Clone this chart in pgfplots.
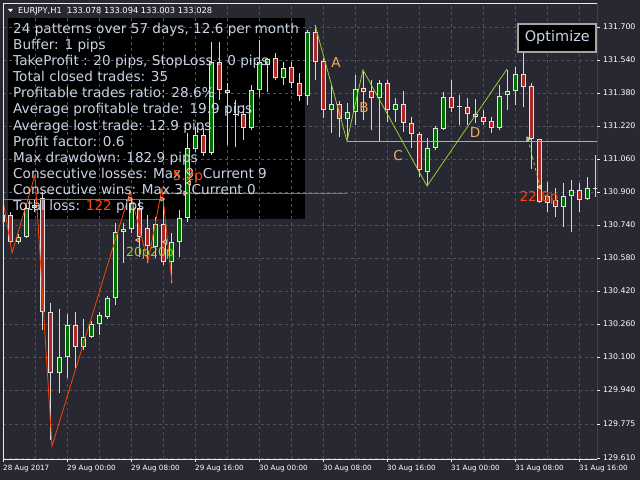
\documentclass[border=0pt]{standalone}
\usepackage{fontspec}
\setmainfont{DejaVu Sans}
\usepackage{pgfplots}
\pgfplotsset{compat=1.18}
\usepackage{pgfplotstable}
\definecolor{bg}{RGB}{40,40,50}
\definecolor{gridc}{RGB}{82,82,94}
\definecolor{framec}{RGB}{235,235,235}
\definecolor{wickc}{RGB}{215,215,215}
\definecolor{outc}{RGB}{225,225,225}
\definecolor{cgreen}{RGB}{0,112,0}
\definecolor{cred}{RGB}{175,40,40}
\definecolor{ored}{RGB}{255,69,0}
\definecolor{ygreen}{RGB}{154,205,50}
\definecolor{sandy}{RGB}{240,170,100}
\definecolor{boxtext}{RGB}{200,212,230}
\definecolor{btngray}{RGB}{165,165,165}

\pgfplotstableread{
i O H L C
0 130.755 130.837 130.735 130.788
2 130.658 130.696 130.648 130.682
3 130.682 130.847 130.677 130.822
7 130.022 130.333 129.925 130.100
8 130.100 130.308 129.998 130.255
10 130.149 130.284 130.134 130.197
11 130.197 130.275 130.192 130.260
12 130.260 130.318 130.207 130.304
13 130.294 130.396 130.284 130.386
14 130.386 130.750 130.352 130.706
15 130.706 130.750 130.556 130.721
16 130.721 130.876 130.701 130.847
19 130.633 130.779 130.580 130.745
21 130.561 130.701 130.459 130.658
22 130.658 130.813 130.585 130.774
23 130.774 131.186 130.755 131.113
24 131.108 131.215 131.094 131.176
26 131.089 131.627 131.079 131.530
31 131.210 131.419 131.201 131.395
32 131.395 131.637 131.361 131.530
33 131.516 131.550 131.385 131.545
35 131.453 131.530 131.419 131.501
38 131.365 131.685 131.322 131.676
41 131.298 131.419 131.186 131.327
43 131.254 131.332 131.162 131.288
44 131.288 131.467 131.225 131.399
47 131.356 131.443 131.147 131.428
49 131.298 131.356 131.239 131.327
53 130.997 131.162 130.934 131.113
54 131.113 131.220 131.104 131.210
55 131.205 131.385 131.201 131.361
62 131.210 131.419 131.201 131.365
63 131.370 131.492 131.298 131.390
64 131.390 131.506 131.322 131.472
70 130.827 130.944 130.730 130.881
71 130.881 130.958 130.706 130.910
73 130.866 130.973 130.861 130.919
}\greentab

\pgfplotstableread{
i O H L C
1 130.788 130.803 130.643 130.658
4 130.837 130.861 130.803 130.822
5 130.871 130.900 130.231 130.318
6 130.318 130.362 129.698 130.022
9 130.255 130.318 130.047 130.149
17 130.822 130.861 130.585 130.682
18 130.725 130.788 130.556 130.638
20 130.745 130.861 130.546 130.561
25 131.176 131.210 131.075 131.089
27 131.530 131.627 131.346 131.395
28 131.395 131.428 131.128 131.380
29 131.278 131.346 131.118 131.273
30 131.278 131.322 131.152 131.210
34 131.550 131.574 131.443 131.453
36 131.506 131.530 131.404 131.428
37 131.428 131.477 131.341 131.365
39 131.676 131.710 131.443 131.530
40 131.535 131.550 131.259 131.298
42 131.327 131.341 131.167 131.254
45 131.404 131.482 131.249 131.385
46 131.390 131.443 131.201 131.356
48 131.428 131.443 131.239 131.298
50 131.327 131.390 131.191 131.235
51 131.235 131.264 131.113 131.181
52 131.181 131.191 130.973 131.007
56 131.361 131.443 131.288 131.307
57 131.314 131.370 131.225 131.310
58 131.312 131.356 131.225 131.278
59 131.278 131.351 131.235 131.264
60 131.264 131.298 131.225 131.239
61 131.244 131.264 131.186 131.210
65 131.472 131.579 131.312 131.409
66 131.414 131.428 131.012 131.157
67 131.157 131.157 130.847 130.852
68 130.881 130.949 130.803 130.847
69 130.861 130.919 130.779 130.827
72 130.910 130.944 130.803 130.861
74 130.917 131.079 130.876 130.913
}\redtab

\pgfplotsset{
  wick/.style={draw=none, mark=none, forget plot,
    error bars/.cd, y dir=plus, y explicit, error mark=none,
    error bar style={draw=wickc, line width=1pt}},
  bodyout/.style={draw=none, mark=none, forget plot,
    error bars/.cd, y dir=plus, y explicit, error mark=none,
    error bar style={draw=outc, line width=5pt}},
  bodyin/.style={draw=none, mark=none, forget plot,
    error bars/.cd, y dir=plus, y explicit, error mark=none,
    error bar style={draw=#1, line width=3pt}},
}

\begin{document}
\begin{tikzpicture}
\fill[bg] (0,0) rectangle (640pt,480pt);
\useasboundingbox (0,0) rectangle (640pt,480pt);
\begin{scope}[shift={(0pt,480pt)},x=1pt,y=-1pt]
\fill[black] (8,18) rectangle (305,219);
\end{scope}
\begin{axis}[
  at={(3pt,21pt)}, anchor=south west, scale only axis,
  width=594pt, height=456pt,
  xmin=0, xmax=74.25, ymin=129.6054, ymax=131.8164,
  axis line style={draw=none},
  xtick={0,8,16,24,32,40,48,56,64,72},
  xticklabels={28 Aug 2017,29 Aug 00:00,29 Aug 08:00,29 Aug 16:00,30 Aug 00:00,30 Aug 08:00,30 Aug 16:00,31 Aug 00:00,31 Aug 08:00,31 Aug 16:00},
  minor xtick={4,12,20,28,36,44,52,60,68},
  ytick={131.700,131.540,131.380,131.220,131.060,130.900,130.740,130.580,130.420,130.260,130.100,129.940,129.775,129.610},
  yticklabels={131.700,131.540,131.380,131.220,131.060,130.900,130.740,130.580,130.420,130.260,130.100,129.940,129.775,129.610},
  xmajorgrids, xminorgrids, ymajorgrids,
  major grid style={draw=gridc, dash pattern=on 3pt off 3pt, line width=0.8pt},
  minor grid style={draw=gridc, dash pattern=on 3pt off 3pt, line width=0.8pt},
  tick align=outside, major tick length=3pt, minor tick length=0pt,
  xtick pos=bottom, ytick pos=right, yticklabel pos=right,
  tick style={draw=framec, line width=0.8pt},
  xticklabel style={anchor=north west, inner sep=0pt, text=white, font=\fontsize{7.2}{8}\selectfont, yshift=-3pt},
  yticklabel style={anchor=west, inner sep=0pt, text=white, font=\fontsize{7.8}{8}\selectfont, xshift=3pt},
]
% candles
\addplot[wick] table[x=i, y=L, y error plus expr=\thisrow{H}-\thisrow{L}] {\greentab};
\addplot[wick] table[x=i, y=L, y error plus expr=\thisrow{H}-\thisrow{L}] {\redtab};
\addplot[bodyout] table[x=i, y expr={min(\thisrow{O},\thisrow{C})}, y error plus expr={max(abs(\thisrow{C}-\thisrow{O}),0.005)}] {\greentab};
\addplot[bodyout] table[x=i, y expr={min(\thisrow{O},\thisrow{C})}, y error plus expr={max(abs(\thisrow{C}-\thisrow{O}),0.005)}] {\redtab};
\addplot[bodyin=cgreen] table[x=i, y expr={min(\thisrow{O},\thisrow{C})+0.0048}, y error plus expr={max(abs(\thisrow{C}-\thisrow{O})-0.0097,0)}] {\greentab};
\addplot[bodyin=cred] table[x=i, y expr={min(\thisrow{O},\thisrow{C})+0.0048}, y error plus expr={max(abs(\thisrow{C}-\thisrow{O})-0.0097,0)}] {\redtab};
% orange pattern lines
\addplot[ored, line width=0.8pt, forget plot] coordinates {(0,130.861) (1.125,130.604) (4,130.982) (6.125,129.668) (15.875,130.900)};
\addplot[ored, line width=0.8pt, forget plot] coordinates {(15.875,130.900) (18.125,130.561) (19.875,130.919) (21.125,130.459)};
\addplot[ored, line width=0.8pt, forget plot] coordinates {(0,130.866) (20,130.866)};
\addplot[ored, line width=0.9pt, forget plot] coordinates {(20,130.893) (43,130.893)};
\addplot[only marks, mark=triangle*, mark size=2.6pt, mark options={rotate=-90, fill=ored, draw=white, line width=0.4pt}, forget plot] coordinates {(15.875,130.866) (19.875,130.866) (22.75,130.895)};
\addplot[only marks, mark=triangle*, mark size=2.6pt, mark options={rotate=90, fill=ored, draw=white, line width=0.4pt}, forget plot] coordinates {(16.875,130.667) (20.25,130.658) (23.25,130.944)};
% yellow-green pattern
\addplot[ygreen, line width=0.8pt, forget plot] coordinates {(39,131.710) (43,131.147) (45,131.492) (53,130.929) (63,131.496)};
\addplot[ygreen, line width=0.8pt, forget plot] coordinates {(43,131.147) (74.25,131.147)};
\addplot[ygreen, line width=0.8pt, dashed, forget plot] coordinates {(65.625,131.157) (67.125,130.924)};
\addplot[only marks, mark=triangle*, mark size=2.6pt, mark options={rotate=-90, fill=ygreen, draw=white, line width=0.4pt}, forget plot] coordinates {(65.625,131.157)};
\addplot[only marks, mark=triangle*, mark size=2.6pt, mark options={rotate=90, fill=ygreen, draw=white, line width=0.4pt}, forget plot] coordinates {(67.125,130.924)};
\draw[framec, line width=0.8pt] (rel axis cs:0,0) rectangle (rel axis cs:1,1);
\end{axis}
\begin{scope}[shift={(0pt,480pt)},x=1pt,y=-1pt]
% header
\fill[white] (8,9) -- (13,9) -- (10.5,12) -- cycle;
\node[anchor=base west, inner sep=0pt, text=white, font=\fontsize{8.3}{9}\selectfont] at (18,13.5) {EURJPY,H1\ \ 133.078 133.094 133.003 133.028};
% info box text
\begin{scope}[every node/.style={anchor=base west, inner sep=0pt, text=boxtext, font=\fontsize{13.6}{16}\selectfont}]
\node at (13,33.5) {24 patterns over 57 days, 12.6 per month};
\node at (13,49.6) {Buffer: 1 pips};
\node at (13,65.7) {TakeProfit : 20 pips, StopLoss : 0 pips};
\node at (13,81.8) {Total closed trades: 35};
\node at (13,97.9) {Profitable trades ratio: 28.6\%};
\node at (13,114.0) {Average profitable trade: 19.9 pips};
\node at (13,130.1) {Average lost trade: 12.9 pips};
\node at (13,146.2) {Profit factor: 0.6};
\node at (13,162.3) {Max drawdown: 182.9 pips};
\node at (13,178.4) {Consecutive losses: Max 9, Current 9};
\node at (13,194.5) {Consecutive wins: Max 3, Current 0};
\node at (13,210.6) {Total loss: \textcolor{ored}{122} pips};
\end{scope}
% labels on chart
\begin{scope}[every node/.style={inner sep=0pt, font=\fontsize{13.6}{16}\selectfont}]
\node[text=ored] at (188,177) {5.2p};
\node[text=ygreen, font=\fontsize{12.5}{14}\selectfont] at (138,253) {20p};
\node[text=ygreen, font=\fontsize{12.5}{14}\selectfont] at (162,253) {20p};
\node[text=sandy] at (336,63) {A};
\node[text=sandy] at (364,108) {B};
\node[text=sandy] at (398,156) {C};
\node[text=sandy] at (475,133) {D};
\node[text=ored] at (539,198) {22.8p};
\end{scope}
% Optimize button
\filldraw[fill=black, draw=btngray, line width=2pt] (518.3,24.3) rectangle (596.3,51.7);
\node[text=boxtext, inner sep=0pt, font=\fontsize{14.5}{16}\selectfont] at (557.3,38) {Optimize};
\end{scope}
\end{tikzpicture}
\end{document}
